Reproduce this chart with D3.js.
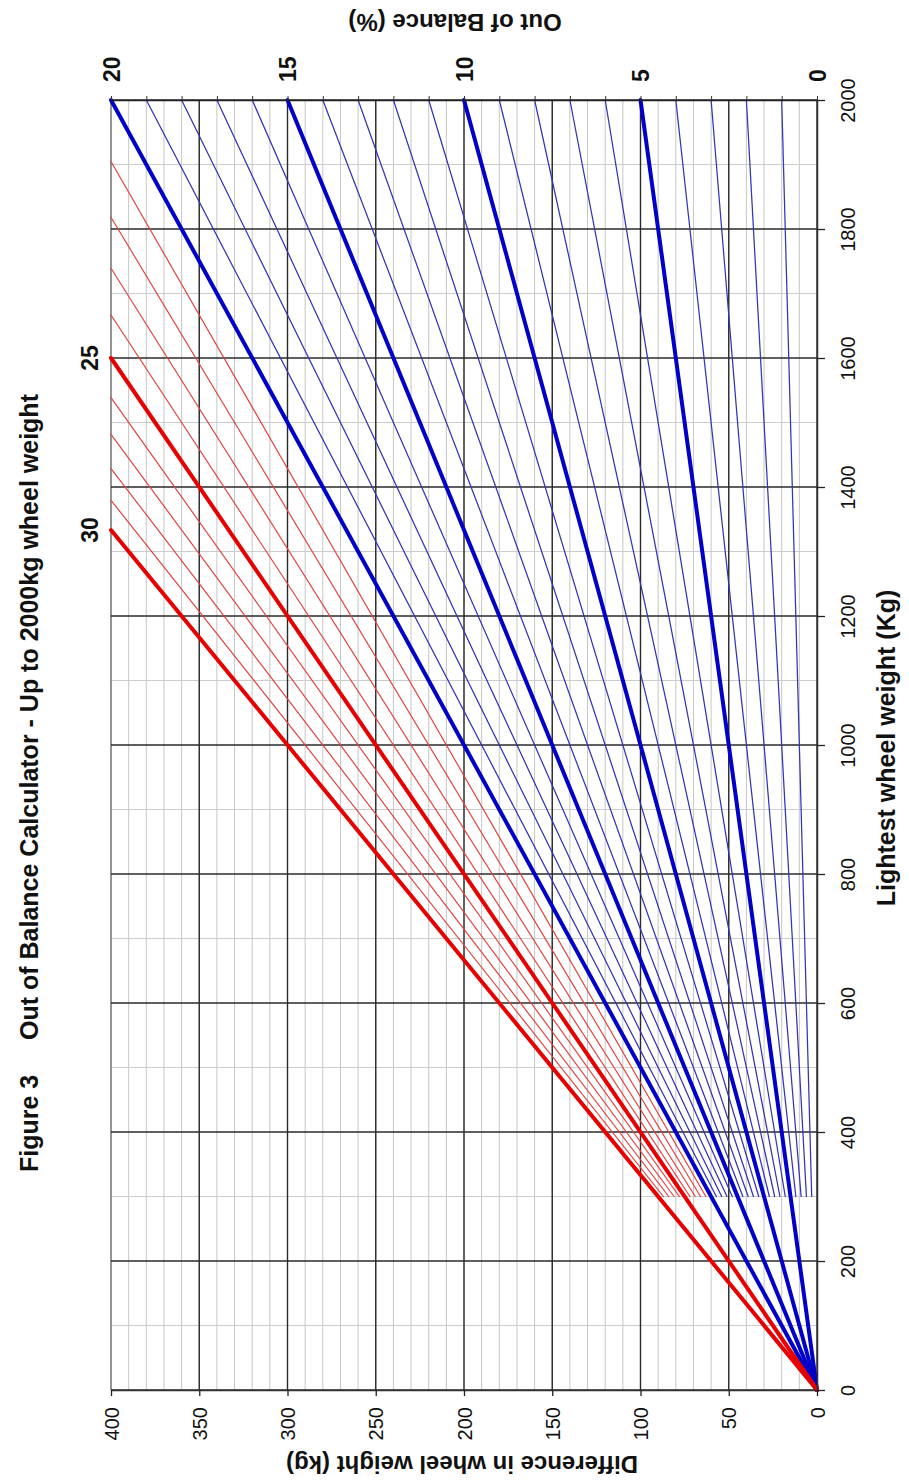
<!DOCTYPE html>
<html>
<head>
<meta charset="utf-8">
<script src="https://cdn.jsdelivr.net/npm/d3@7/dist/d3.min.js"></script>
<style>
  body { margin: 0; background: #fff; }
  svg { display: block; }
  .lbl { font-family: 'Liberation Sans Narrow', 'Arial Narrow', 'Liberation Sans', Arial, sans-serif; font-size: 20px; fill: #111; }
  .bold { font-family: 'Liberation Sans', Arial, sans-serif; font-weight: bold; fill: #111; }
</style>
</head>
<body>
<svg id="chart" width="909" height="1484"></svg>
<script>
// values
var weightTicks = [0, 200, 400, 600, 800, 1000, 1200, 1400, 1600, 1800, 2000];
var weightMinor = [100, 300, 500, 700, 900, 1100, 1300, 1500, 1700, 1900];
var diffTicks = [0, 50, 100, 150, 200, 250, 300, 350, 400];
var pctTicks = [0, 1, 2, 3, 4, 5, 6, 7, 8, 9, 10, 11, 12, 13, 14, 15, 16, 17, 18, 19, 20];
var pctLabels = [0, 5, 10, 15, 20];
var thickBlue = [5, 10, 15, 20];
var thickRed = [25, 30];
var thinBlue = [1, 2, 3, 4, 6, 7, 8, 9, 11, 12, 13, 14, 16, 17, 18, 19];
var thinRed = [21, 22, 23, 24, 26, 27, 28, 29];
var sideLabels = [25, 30];
var thinStart = 300;   // thin lines begin at 300 kg
var maxWeight = 2000, maxDiff = 400;

var svg = d3.select("#chart");

// the whole chart is turned on its side: weight runs up, difference runs left
var x = d3.scaleLinear().domain([0, maxDiff]).range([817, 111]);
var y = d3.scaleLinear().domain([0, maxWeight]).range([1390, 100]);
var xPct = d3.scaleLinear().domain([0, 20]).range([x(0), x(400)]);

var grid = svg.append("g");

// minor grid
grid.selectAll("line.vmin")
    .data(d3.range(10, maxDiff, 10))
    .enter().append("line")
    .attr("x1", d => x(d)).attr("x2", d => x(d))
    .attr("y1", y(0)).attr("y2", y(maxWeight))
    .attr("stroke", "#c6c6c6").attr("stroke-width", 1);

grid.selectAll("line.hmin")
    .data(weightMinor)
    .enter().append("line")
    .attr("x1", x(0)).attr("x2", x(maxDiff))
    .attr("y1", d => y(d)).attr("y2", d => y(d))
    .attr("stroke", "#cccccc").attr("stroke-width", 1);

// major grid
grid.selectAll("line.vmaj")
    .data(diffTicks)
    .enter().append("line")
    .attr("x1", d => x(d)).attr("x2", d => x(d))
    .attr("y1", y(0)).attr("y2", y(maxWeight))
    .attr("stroke", d => d === 400 ? "#666" : "#2a2a2a").attr("stroke-width", 1.4);

grid.selectAll("line.hmaj")
    .data(weightTicks)
    .enter().append("line")
    .attr("x1", x(0)).attr("x2", x(maxDiff))
    .attr("y1", d => y(d)).attr("y2", d => y(d))
    .attr("stroke", "#2a2a2a").attr("stroke-width", 1.4);

// percentage lines: difference = pct% of lightest weight, stopped at the 400 kg edge
var line = d3.line().x(d => x(d[1])).y(d => y(d[0]));
function pts(p, w0) {
    var wEnd = Math.min(maxWeight, maxDiff * 100 / p);
    return [[w0, w0 * p / 100], [wEnd, wEnd * p / 100]];
}

var lines = svg.append("g").attr("fill", "none").attr("stroke-linecap", "round");

lines.selectAll("path.tb")
    .data(thinBlue).enter().append("path")
    .attr("d", p => line(pts(p, thinStart)))
    .attr("stroke", "#3434b4").attr("stroke-width", 1.25);

lines.selectAll("path.tr")
    .data(thinRed).enter().append("path")
    .attr("d", p => line(pts(p, thinStart)))
    .attr("stroke", "#e04444").attr("stroke-width", 1.2);

lines.selectAll("path.kb")
    .data(thickBlue).enter().append("path")
    .attr("d", p => line(pts(p, 0)))
    .attr("stroke", "#0000c8").attr("stroke-width", 4);

lines.selectAll("path.kr")
    .data(thickRed).enter().append("path")
    .attr("d", p => line(pts(p, 0)))
    .attr("stroke", "#e80000").attr("stroke-width", 4);

// bottom axis (difference)
var bottomAxis = svg.append("g")
    .attr("transform", "translate(0," + y(0) + ")")
    .call(d3.axisBottom(x).tickValues(diffTicks).tickSize(6).tickSizeOuter(0).tickFormat(d3.format("d")));
bottomAxis.select(".domain").attr("stroke", "#333").attr("stroke-width", 1.5);
bottomAxis.selectAll(".tick line").attr("stroke", "#222").attr("stroke-width", 1.3);
bottomAxis.selectAll(".tick text")
    .attr("class", "lbl")
    .attr("transform", "rotate(-90)")
    .attr("x", -17).attr("y", 0).attr("dy", "0.36em")
    .attr("text-anchor", "end");

// right axis (lightest weight)
var rightAxis = svg.append("g")
    .attr("transform", "translate(" + x(0) + ",0)")
    .call(d3.axisRight(y).tickValues(weightTicks).tickSize(8).tickSizeOuter(0).tickFormat(d3.format("d")));
rightAxis.select(".domain").attr("stroke", "#333").attr("stroke-width", 1.5);
rightAxis.selectAll(".tick line").attr("stroke", "#222").attr("stroke-width", 1.3);
rightAxis.selectAll(".tick text")
    .attr("class", "lbl")
    .attr("transform", "rotate(-90)")
    .attr("x", 0).attr("y", 38).attr("dy", 0)
    .attr("text-anchor", "middle");

// top axis (out of balance %)
var pctAxis = svg.append("g")
    .attr("transform", "translate(0," + y(maxWeight) + ")")
    .call(d3.axisTop(xPct).tickValues(pctTicks).tickSize(4).tickSizeOuter(0)
        .tickFormat(d => pctLabels.indexOf(d) >= 0 ? d : ""));
pctAxis.select(".domain").attr("stroke", "#222").attr("stroke-width", 1.4);
pctAxis.selectAll(".tick line").attr("stroke", "#333").attr("stroke-width", 1);
pctAxis.selectAll(".tick text")
    .attr("class", "bold")
    .style("font-size", "23px")
    .attr("transform", "rotate(-90)")
    .attr("x", 18).attr("y", 8).attr("dy", 0)
    .attr("text-anchor", "start");

// 25 and 30 labels at the ends of the red lines
svg.selectAll("text.side")
    .data(sideLabels).enter().append("text")
    .attr("class", "bold")
    .style("font-size", "23px")
    .attr("text-anchor", "middle")
    .attr("transform", p => "translate(" + (x(maxDiff) - 13) + "," + y(maxDiff * 100 / p) + ") rotate(-90)")
    .text(p => p);

// titles
svg.append("text").attr("class", "bold").style("font-size", "25px")
    .attr("transform", "translate(38,1172) rotate(-90)")
    .text("Figure 3");
svg.append("text").attr("class", "bold").style("font-size", "25px")
    .attr("transform", "translate(38,1040) rotate(-90)")
    .text("Out of Balance Calculator - Up to 2000kg wheel weight");

svg.append("text").attr("class", "bold").style("font-size", "25px")
    .attr("text-anchor", "middle")
    .attr("transform", "translate(895,748) rotate(-90)")
    .text("Lightest wheel weight (Kg)");

svg.append("text").attr("class", "bold").style("font-size", "24px")
    .attr("text-anchor", "middle")
    .attr("transform", "translate(455,14) rotate(180)")
    .text("Out of Balance (%)");

svg.append("text").attr("class", "bold").style("font-size", "24px")
    .attr("text-anchor", "middle")
    .attr("transform", "translate(462,1456) rotate(180)")
    .text("Difference in wheel weight (kg)");
</script>
</body>
</html>
